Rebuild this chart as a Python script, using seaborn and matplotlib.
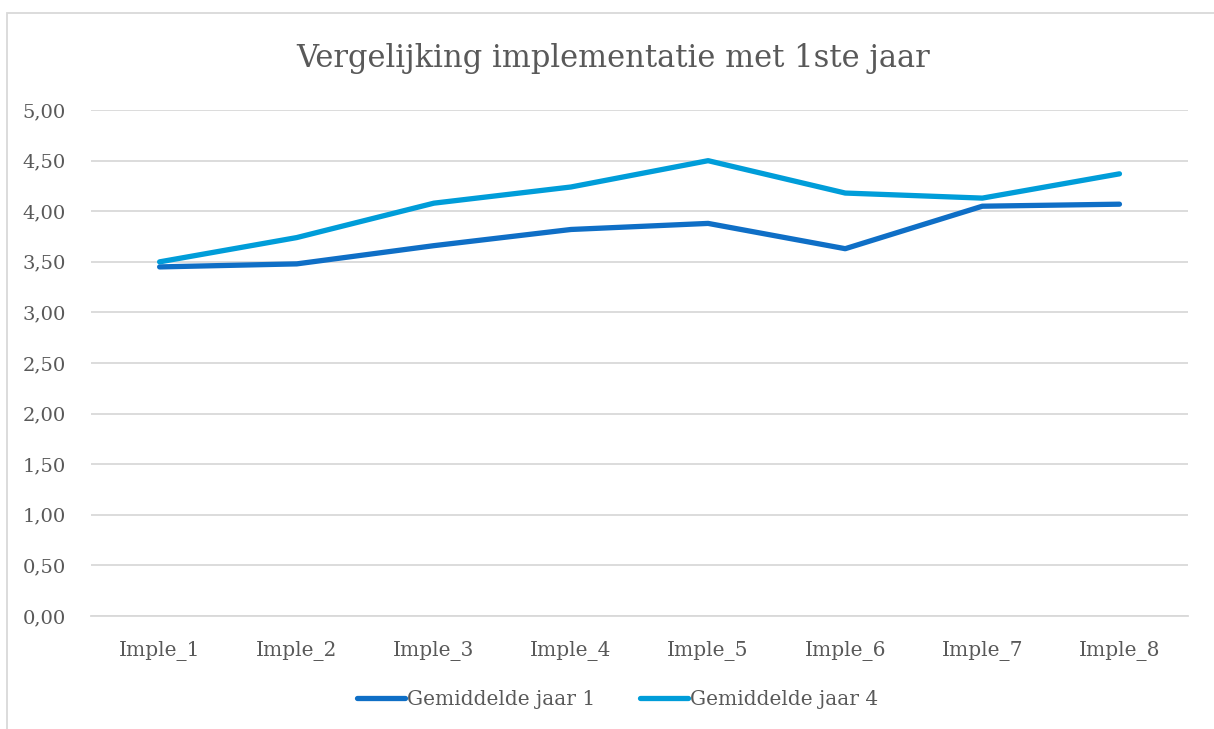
import numpy as np
import pandas as pd
import matplotlib.pyplot as plt
import seaborn as sns
from matplotlib.patches import Rectangle

# Data
categories = ["Imple_1", "Imple_2", "Imple_3", "Imple_4",
              "Imple_5", "Imple_6", "Imple_7", "Imple_8"]
jaar1 = [3.45, 3.48, 3.66, 3.82, 3.88, 3.63, 4.05, 4.07]
jaar4 = [3.50, 3.74, 4.08, 4.24, 4.50, 4.18, 4.13, 4.37]
y_ticks = [0.0, 0.5, 1.0, 1.5, 2.0, 2.5, 3.0, 3.5, 4.0, 4.5, 5.0]

df = pd.DataFrame({
    "Categorie": categories * 2,
    "Waarde": jaar1 + jaar4,
    "Reeks": ["Gemiddelde jaar 1"] * len(categories) + ["Gemiddelde jaar 4"] * len(categories),
})

sns.set_style("white")
plt.rcParams["font.family"] = ["DejaVu Serif"]
text_color = "#595959"

fig = plt.figure(figsize=(12.14, 7.29), dpi=100)
ax = fig.add_axes([0.075, 0.155, 0.9036, 0.694])

sns.lineplot(
    data=df, x="Categorie", y="Waarde", hue="Reeks",
    palette=["#0F6FC6", "#009DD9"], linewidth=3.8,
    solid_capstyle="round", solid_joinstyle="round",
    sort=False, ax=ax, zorder=3,
)

ax.set_xlim(-0.5, len(categories) - 0.5)
ax.set_ylim(0, 5)
ax.set_yticks(y_ticks)
ax.set_yticklabels([f"{v:.2f}".replace(".", ",") for v in y_ticks])
ax.grid(axis="y", color="#D9D9D9", linewidth=1.3, zorder=0)
ax.grid(axis="x", visible=False)
for side in ["top", "right", "left"]:
    ax.spines[side].set_visible(False)
ax.spines["bottom"].set_color("#D9D9D9")
ax.spines["bottom"].set_linewidth(1.3)
ax.tick_params(axis="both", length=0, colors=text_color)
ax.tick_params(axis="x", pad=18, labelsize=14.5)
ax.tick_params(axis="y", pad=18, labelsize=14)
ax.set_xlabel("")
ax.set_ylabel("")

fig.text(0.505, 0.92, "Vergelijking implementatie met 1ste jaar",
         ha="center", va="center", fontsize=22, color=text_color)

leg = ax.legend(loc="center", bbox_to_anchor=(0.48, -0.165), ncol=2,
                frameon=False, fontsize=14.5, handlelength=2.4,
                handletextpad=0.1, columnspacing=2.2)
for t in leg.get_texts():
    t.set_color(text_color)

fig.patches.append(Rectangle((7 / 1214, -0.1), 1.2, 1 - 13 / 729 + 0.1,
                             transform=fig.transFigure, fill=False,
                             edgecolor="#D9D9D9", linewidth=1.3))

fig.savefig("out.png", dpi=100)
